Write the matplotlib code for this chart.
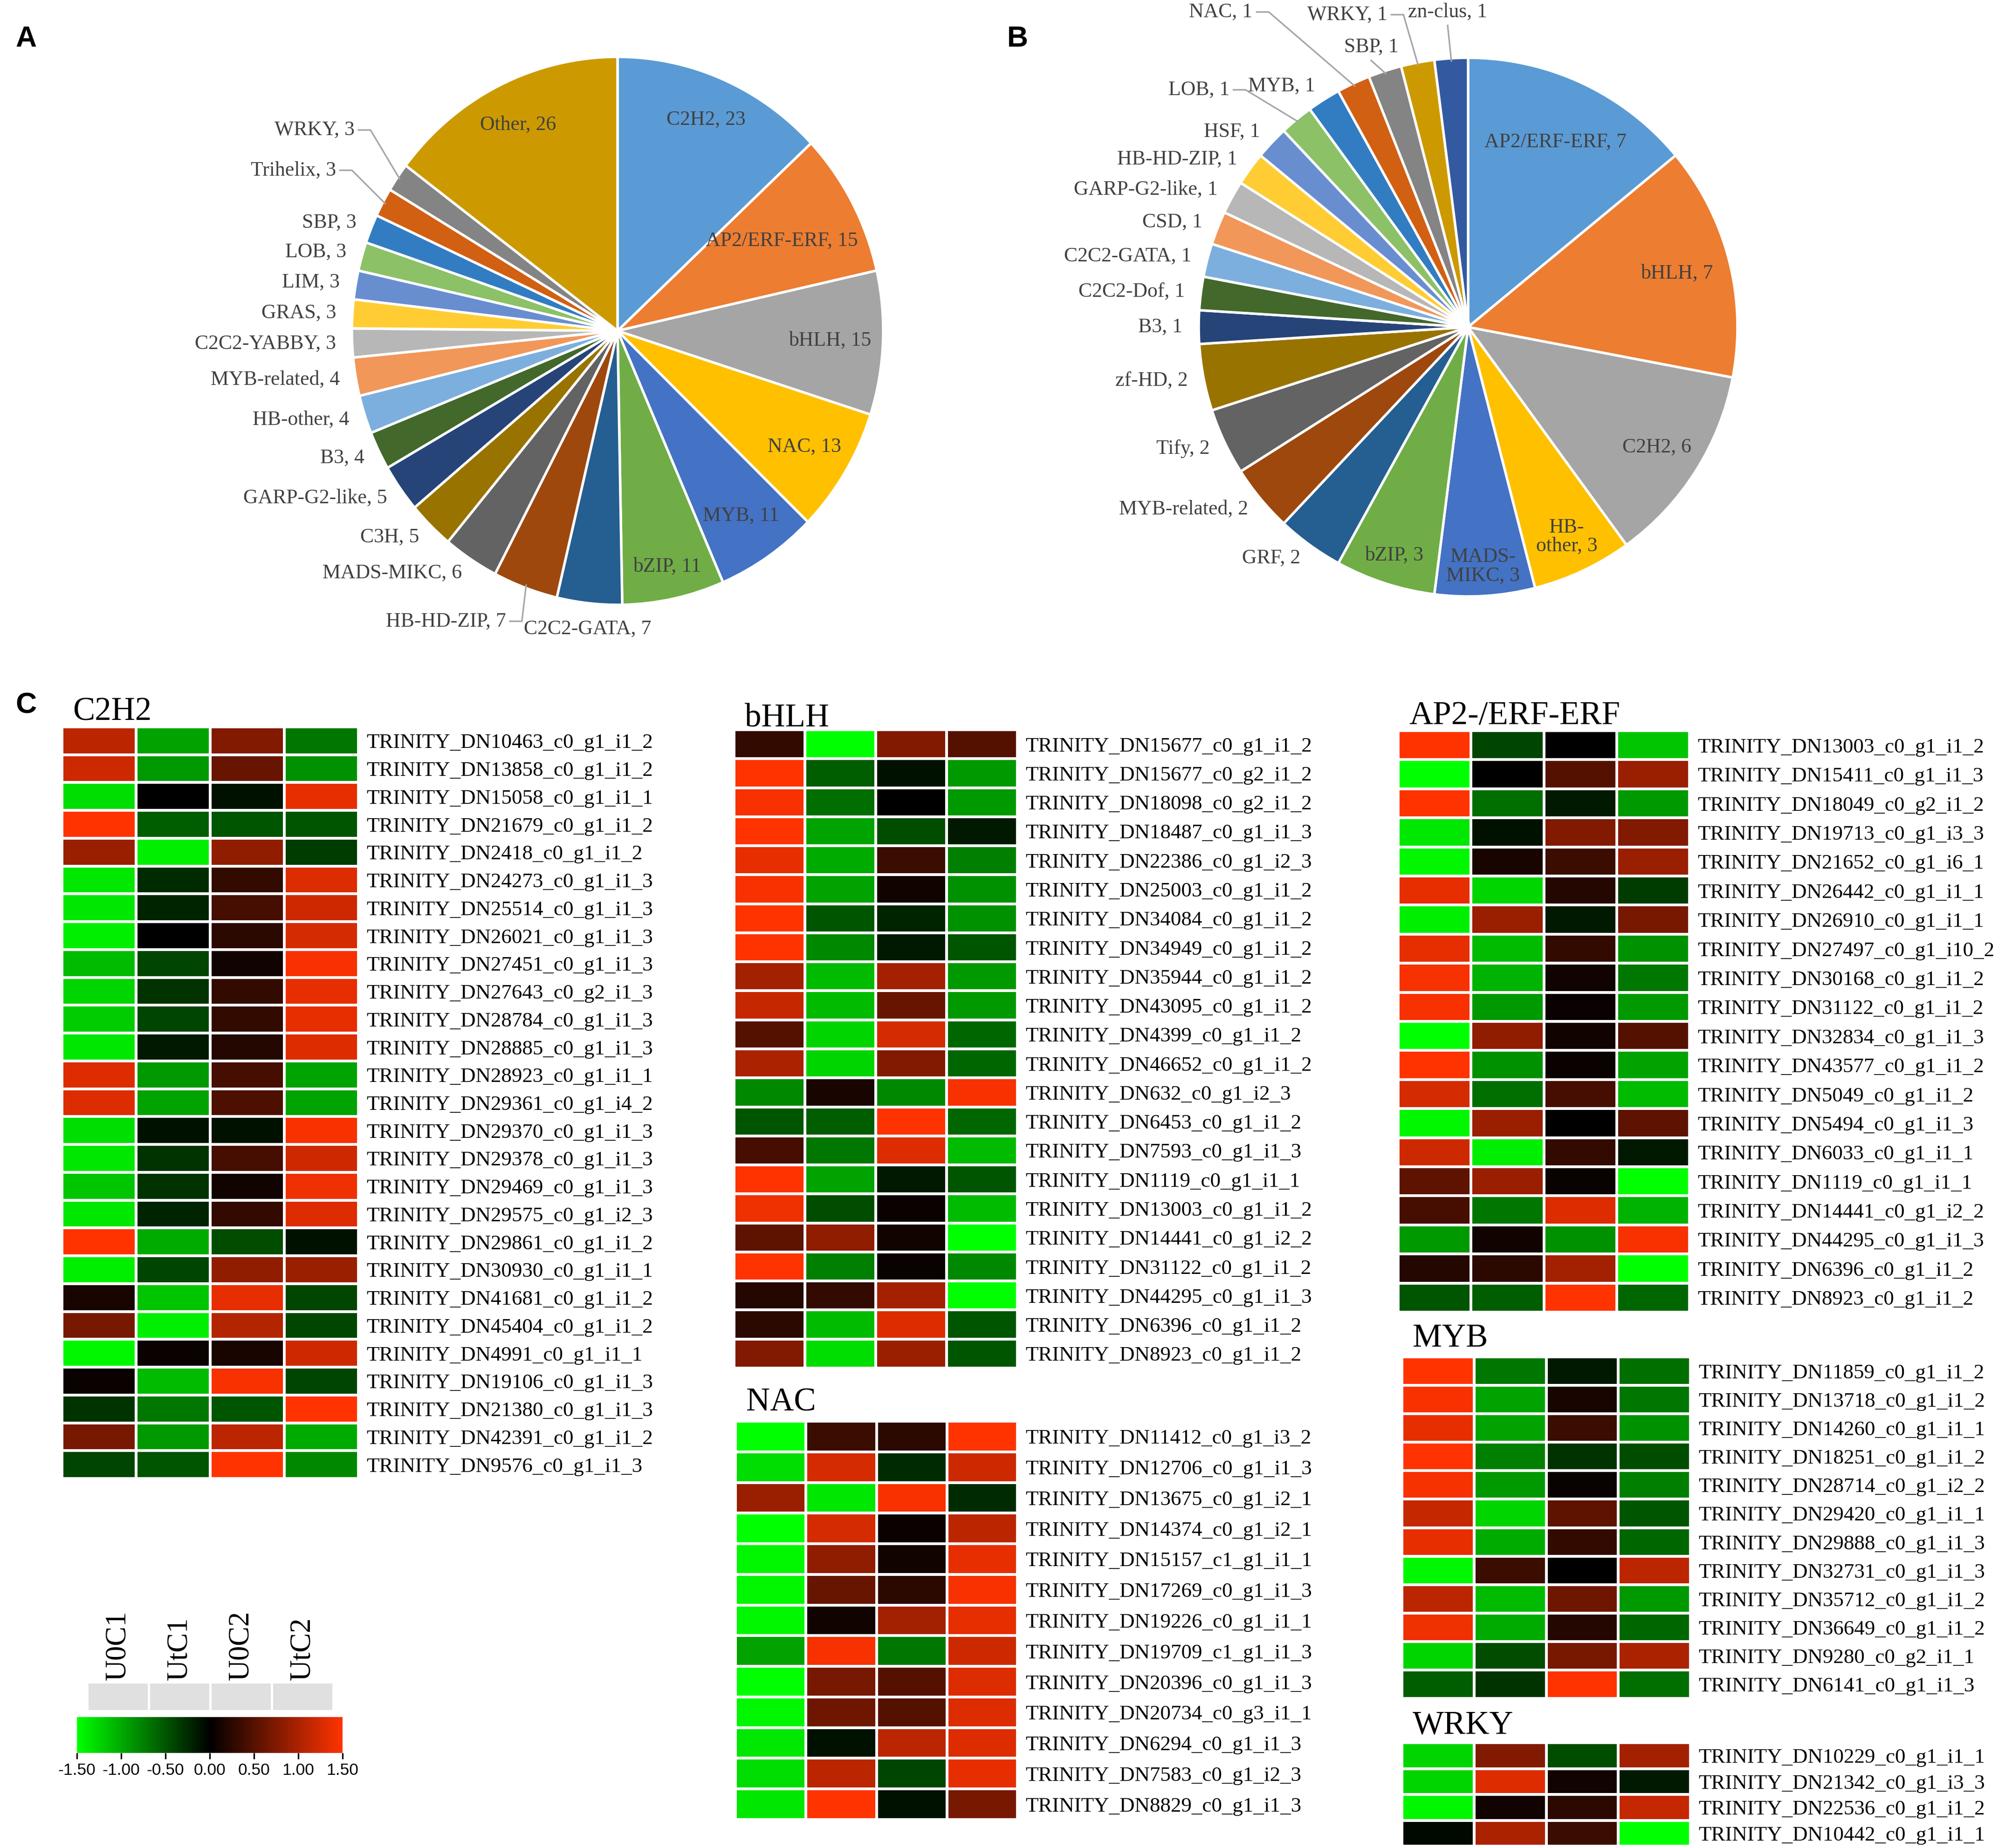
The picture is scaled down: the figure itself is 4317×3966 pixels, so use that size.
import numpy as np
import matplotlib
matplotlib.use("Agg")
import matplotlib.pyplot as plt
from matplotlib.colors import LinearSegmentedColormap, ListedColormap, Normalize
from matplotlib.cm import ScalarMappable

plt.rcParams["axes.unicode_minus"] = False

W, H, DPI = 4317, 3966, 300
SERIF = "Liberation Serif"
SANS = "Liberation Sans"

# ---------------- data: pie A (TF families) ----------------
fam_a = ["C2H2", "AP2/ERF-ERF", "bHLH", "NAC", "MYB", "bZIP", "C2C2-GATA",
         "HB-HD-ZIP", "MADS-MIKC", "C3H", "GARP-G2-like", "B3", "HB-other",
         "MYB-related", "C2C2-YABBY", "GRAS", "LIM", "LOB", "SBP", "Trihelix",
         "WRKY", "Other"]
count_a = [23, 15, 15, 13, 11, 11, 7, 7, 6, 5, 5, 4, 4, 4, 3, 3, 3, 3, 3, 3, 3, 26]

# ---------------- data: pie B ----------------
fam_b = ["AP2/ERF-ERF", "bHLH", "C2H2", "HB-other", "MADS-MIKC", "bZIP", "GRF",
         "MYB-related", "Tify", "zf-HD", "B3", "C2C2-Dof", "C2C2-GATA", "CSD",
         "GARP-G2-like", "HB-HD-ZIP", "HSF", "LOB", "MYB", "NAC", "SBP", "WRKY",
         "zn-clus"]
count_b = [7, 7, 6, 3, 3, 3, 2, 2, 2, 2, 1, 1, 1, 1, 1, 1, 1, 1, 1, 1, 1, 1, 1]

# ---------------- data: heatmaps ----------------
samples = ["U0C1", "UtC1", "U0C2", "UtC2"]

c2h2_genes = ["TRINITY_DN10463_c0_g1_i1_2", "TRINITY_DN13858_c0_g1_i1_2",
              "TRINITY_DN15058_c0_g1_i1_1", "TRINITY_DN21679_c0_g1_i1_2",
              "TRINITY_DN2418_c0_g1_i1_2", "TRINITY_DN24273_c0_g1_i1_3",
              "TRINITY_DN25514_c0_g1_i1_3", "TRINITY_DN26021_c0_g1_i1_3",
              "TRINITY_DN27451_c0_g1_i1_3", "TRINITY_DN27643_c0_g2_i1_3",
              "TRINITY_DN28784_c0_g1_i1_3", "TRINITY_DN28885_c0_g1_i1_3",
              "TRINITY_DN28923_c0_g1_i1_1", "TRINITY_DN29361_c0_g1_i4_2",
              "TRINITY_DN29370_c0_g1_i1_3", "TRINITY_DN29378_c0_g1_i1_3",
              "TRINITY_DN29469_c0_g1_i1_3", "TRINITY_DN29575_c0_g1_i2_3",
              "TRINITY_DN29861_c0_g1_i1_2", "TRINITY_DN30930_c0_g1_i1_1",
              "TRINITY_DN41681_c0_g1_i1_2", "TRINITY_DN45404_c0_g1_i1_2",
              "TRINITY_DN4991_c0_g1_i1_1", "TRINITY_DN19106_c0_g1_i1_3",
              "TRINITY_DN21380_c0_g1_i1_3", "TRINITY_DN42391_c0_g1_i1_2",
              "TRINITY_DN9576_c0_g1_i1_3"]
c2h2_values = [[1.1, -0.95, 0.75, -0.7], [1.2, -0.9, 0.6, -0.85],
               [-1.3, 0.0, -0.1, 1.35], [1.5, -0.55, -0.5, -0.5],
               [0.9, -1.4, 0.85, -0.35], [-1.35, -0.25, 0.3, 1.3],
               [-1.35, -0.2, 0.4, 1.2], [-1.4, 0.0, 0.25, 1.25],
               [-1.1, -0.4, 0.1, 1.45], [-1.25, -0.3, 0.3, 1.35],
               [-1.2, -0.4, 0.3, 1.35], [-1.35, -0.15, 0.2, 1.3],
               [1.3, -0.9, 0.4, -0.95], [1.3, -0.95, 0.45, -0.95],
               [-1.3, -0.1, -0.1, 1.45], [-1.35, -0.3, 0.4, 1.2],
               [-1.15, -0.3, 0.1, 1.4], [-1.35, -0.2, 0.3, 1.3],
               [1.5, -1.0, -0.45, -0.1], [-1.4, -0.4, 0.85, 0.9],
               [0.15, -1.15, 1.35, -0.4], [0.7, -1.4, 1.05, -0.4],
               [-1.45, 0.05, 0.15, 1.2], [0.05, -1.1, 1.45, -0.4],
               [-0.3, -0.7, -0.5, 1.5], [0.7, -0.9, 1.1, -1.0],
               [-0.4, -0.5, 1.5, -0.8]]

bhlh_genes = ["TRINITY_DN15677_c0_g1_i1_2", "TRINITY_DN15677_c0_g2_i1_2",
              "TRINITY_DN18098_c0_g2_i1_2", "TRINITY_DN18487_c0_g1_i1_3",
              "TRINITY_DN22386_c0_g1_i2_3", "TRINITY_DN25003_c0_g1_i1_2",
              "TRINITY_DN34084_c0_g1_i1_2", "TRINITY_DN34949_c0_g1_i1_2",
              "TRINITY_DN35944_c0_g1_i1_2", "TRINITY_DN43095_c0_g1_i1_2",
              "TRINITY_DN4399_c0_g1_i1_2", "TRINITY_DN46652_c0_g1_i1_2",
              "TRINITY_DN632_c0_g1_i2_3", "TRINITY_DN6453_c0_g1_i1_2",
              "TRINITY_DN7593_c0_g1_i1_3", "TRINITY_DN1119_c0_g1_i1_1",
              "TRINITY_DN13003_c0_g1_i1_2", "TRINITY_DN14441_c0_g1_i2_2",
              "TRINITY_DN31122_c0_g1_i1_2", "TRINITY_DN44295_c0_g1_i1_3",
              "TRINITY_DN6396_c0_g1_i1_2", "TRINITY_DN8923_c0_g1_i1_2"]
bhlh_values = [[0.3, -1.5, 0.75, 0.5], [1.5, -0.55, -0.1, -0.9],
               [1.45, -0.65, 0.0, -0.9], [1.5, -0.95, -0.45, -0.15],
               [1.35, -1.0, 0.35, -0.75], [1.45, -0.95, 0.1, -0.85],
               [1.5, -0.5, -0.2, -0.85], [1.5, -0.8, -0.15, -0.5],
               [0.95, -1.1, 0.95, -0.9], [1.15, -1.1, 0.6, -0.9],
               [0.5, -1.25, 1.25, -0.6], [1.0, -1.25, 0.75, -0.6],
               [-0.8, 0.15, -0.8, 1.45], [-0.5, -0.55, 1.5, -0.6],
               [0.4, -0.7, 1.3, -1.1], [1.5, -0.95, -0.15, -0.5],
               [1.4, -0.45, 0.05, -1.1], [0.55, 0.85, 0.1, -1.5],
               [1.5, -0.75, 0.05, -0.8], [0.2, 0.3, 0.95, -1.5],
               [0.25, -1.1, 1.3, -0.5], [0.75, -1.3, 0.9, -0.5]]

nac_genes = ["TRINITY_DN11412_c0_g1_i3_2", "TRINITY_DN12706_c0_g1_i1_3",
             "TRINITY_DN13675_c0_g1_i2_1", "TRINITY_DN14374_c0_g1_i2_1",
             "TRINITY_DN15157_c1_g1_i1_1", "TRINITY_DN17269_c0_g1_i1_3",
             "TRINITY_DN19226_c0_g1_i1_1", "TRINITY_DN19709_c1_g1_i1_3",
             "TRINITY_DN20396_c0_g1_i1_3", "TRINITY_DN20734_c0_g3_i1_1",
             "TRINITY_DN6294_c0_g1_i1_3", "TRINITY_DN7583_c0_g1_i2_3",
             "TRINITY_DN8829_c0_g1_i1_3"]
nac_values = [[-1.5, 0.35, 0.25, 1.5], [-1.3, 1.25, -0.25, 1.2],
              [0.9, -1.35, 1.45, -0.25], [-1.5, 1.25, 0.05, 1.1],
              [-1.45, 0.85, 0.1, 1.35], [-1.45, 0.6, 0.25, 1.45],
              [-1.45, 0.1, 0.95, 1.35], [-0.95, 1.45, -0.7, 1.2],
              [-1.5, 0.7, 0.5, 1.3], [-1.45, 0.65, 0.5, 1.3],
              [-1.35, -0.1, 1.1, 1.3], [-1.3, 1.1, -0.4, 1.35],
              [-1.35, 1.5, -0.1, 0.7]]

ap2_genes = ["TRINITY_DN13003_c0_g1_i1_2", "TRINITY_DN15411_c0_g1_i1_3",
             "TRINITY_DN18049_c0_g2_i1_2", "TRINITY_DN19713_c0_g1_i3_3",
             "TRINITY_DN21652_c0_g1_i6_1", "TRINITY_DN26442_c0_g1_i1_1",
             "TRINITY_DN26910_c0_g1_i1_1", "TRINITY_DN27497_c0_g1_i10_2",
             "TRINITY_DN30168_c0_g1_i1_2", "TRINITY_DN31122_c0_g1_i1_2",
             "TRINITY_DN32834_c0_g1_i1_3", "TRINITY_DN43577_c0_g1_i1_2",
             "TRINITY_DN5049_c0_g1_i1_2", "TRINITY_DN5494_c0_g1_i1_3",
             "TRINITY_DN6033_c0_g1_i1_1", "TRINITY_DN1119_c0_g1_i1_1",
             "TRINITY_DN14441_c0_g1_i2_2", "TRINITY_DN44295_c0_g1_i1_3",
             "TRINITY_DN6396_c0_g1_i1_2", "TRINITY_DN8923_c0_g1_i1_2"]
ap2_values = [[1.5, -0.4, 0.0, -1.15], [-1.5, 0.0, 0.5, 0.9],
              [1.5, -0.65, -0.15, -0.9], [-1.35, -0.1, 0.75, 0.75],
              [-1.45, 0.15, 0.35, 0.9], [1.35, -1.25, 0.2, -0.35],
              [-1.4, 0.9, -0.15, 0.7], [1.35, -1.1, 0.3, -0.85],
              [1.45, -1.05, 0.1, -0.7], [1.45, -0.9, 0.05, -0.9],
              [-1.5, 0.85, 0.1, 0.5], [1.5, -0.85, 0.05, -0.95],
              [1.25, -0.65, 0.4, -1.1], [-1.45, 0.9, 0.0, 0.55],
              [1.2, -1.4, 0.3, -0.15], [0.55, 0.9, 0.05, -1.5],
              [0.4, -0.7, 1.3, -1.05], [-0.9, 0.1, -0.85, 1.45],
              [0.2, 0.25, 0.95, -1.5], [-0.5, -0.55, 1.5, -0.6]]

myb_genes = ["TRINITY_DN11859_c0_g1_i1_2", "TRINITY_DN13718_c0_g1_i1_2",
             "TRINITY_DN14260_c0_g1_i1_1", "TRINITY_DN18251_c0_g1_i1_2",
             "TRINITY_DN28714_c0_g1_i2_2", "TRINITY_DN29420_c0_g1_i1_1",
             "TRINITY_DN29888_c0_g1_i1_3", "TRINITY_DN32731_c0_g1_i1_3",
             "TRINITY_DN35712_c0_g1_i1_2", "TRINITY_DN36649_c0_g1_i1_2",
             "TRINITY_DN9280_c0_g2_i1_1", "TRINITY_DN6141_c0_g1_i1_3"]
myb_values = [[1.5, -0.7, -0.15, -0.65], [1.45, -0.95, 0.15, -0.7],
              [1.35, -0.95, 0.35, -0.85], [1.5, -0.75, -0.3, -0.45],
              [1.45, -0.9, 0.05, -0.75], [1.15, -1.25, 0.55, -0.5],
              [1.35, -1.0, 0.3, -0.6], [-1.45, 0.35, 0.0, 1.1],
              [1.1, -1.1, 0.65, -0.9], [1.4, -1.0, 0.2, -0.6],
              [-1.25, -0.45, 0.7, 1.0], [-0.55, -0.3, 1.5, -0.65]]

wrky_genes = ["TRINITY_DN10229_c0_g1_i1_1", "TRINITY_DN21342_c0_g1_i3_3",
              "TRINITY_DN22536_c0_g1_i1_2", "TRINITY_DN10442_c0_g1_i1_1"]
wrky_values = [[-1.25, 0.75, -0.45, 0.95], [-1.25, 1.3, 0.1, -0.15],
               [-1.45, 0.1, 0.25, 1.15], [-0.05, 1.0, 0.35, -1.5]]

cbar_ticks = [-1.5, -1.0, -0.5, 0.0, 0.5, 1.0, 1.5]

# ---------------- styles ----------------
PALETTE = ["#5B9BD5", "#ED7D31", "#A5A5A5", "#FFC000", "#4472C4", "#70AD47",
           "#255E91", "#9E480E", "#636363", "#997300", "#264478", "#43682B",
           "#7CAFDD", "#F1975A", "#B7B7B7", "#FFCD33", "#698ED0", "#8CC168",
           "#327DC2", "#D26012", "#848484", "#CC9A00", "#335AA1"]
LABEL_GREY = "#404040"
LEADER = "#A6A6A6"
cmap = LinearSegmentedColormap.from_list("gkr", ["#00FF00", "#000000", "#FF3300"])

fig = plt.figure(figsize=(W / DPI, H / DPI), dpi=DPI)


def px_axes(l, t, r, b):
    return fig.add_axes([l / W, 1 - b / H, (r - l) / W, (b - t) / H])


def px_text(x, y, s, **kw):
    return fig.text(x / W, 1 - y / H, s, **kw)


def draw_pie(cx, cy, rx, ry, names, counts, inside, wrap, placed):
    lim = 1.2
    ax = px_axes(cx - lim * rx, cy - lim * ry, cx + lim * rx, cy + lim * ry)
    wedges, _ = ax.pie(counts, colors=PALETTE[:len(counts)], startangle=90,
                       counterclock=False,
                       wedgeprops=dict(edgecolor="white", linewidth=1.3))
    ax.set_aspect("auto")
    ax.set_xlim(-lim, lim)
    ax.set_ylim(-lim, lim)
    kw = dict(fontsize=10.5, family=SERIF, color=LABEL_GREY)
    for w, name, n in zip(wedges, names, counts):
        a = np.deg2rad(0.5 * (w.theta1 + w.theta2))
        ux, uy = np.cos(a), np.sin(a)
        label = f"{wrap.get(name, name)}, {n}"
        if name in inside:
            r = inside[name]
            ax.text(r * ux, r * uy, label, ha="center", va="center",
                    linespacing=1.0, **kw)
        elif name in placed:
            tx, ty, ha = placed[name]
            ax.text(tx, ty, label, ha=ha, va="center", **kw)
            if ha == "right":
                path = [(tx + 0.015, ty), (tx + 0.06, ty), (0.99 * ux, 0.99 * uy)]
            else:
                path = [(tx, ty - 0.05), (0.99 * ux, 0.99 * uy)]
            xs, ys = zip(*path)
            ax.plot(xs, ys, color=LEADER, lw=0.8)
        else:
            r = 1.06
            ha = "right" if ux < -0.15 else ("left" if ux > 0.15 else "center")
            va = "center" if abs(uy) < 0.97 else ("top" if uy < 0 else "bottom")
            ax.text(r * ux, r * uy, label, ha=ha, va=va, **kw)
    return ax


# pie A
draw_pie(1325, 710, 570, 588, fam_a, count_a,
         inside={"C2H2": 0.84, "AP2/ERF-ERF": 0.70, "bHLH": 0.80, "NAC": 0.82,
                 "MYB": 0.82, "bZIP": 0.88, "Other": 0.84},
         wrap={},
         placed={"WRKY": (-0.99, 0.733, "right"),
                 "Trihelix": (-1.06, 0.586, "right"),
                 "HB-HD-ZIP": (-0.42, -1.06, "right")})

# pie B
draw_pie(3150, 702, 578, 578, fam_b, count_b,
         inside={"AP2/ERF-ERF": 0.76, "bHLH": 0.80, "C2H2": 0.83,
                 "HB-other": 0.86, "MADS-MIKC": 0.89, "bZIP": 0.89},
         wrap={"HB-other": "HB-\nother", "MADS-MIKC": "MADS-\nMIKC"},
         placed={"NAC": (-0.80, 1.17, "right"),
                 "WRKY": (-0.30, 1.16, "right"),
                 "zn-clus": (-0.076, 1.17, "center"),
                 "SBP": (-0.36, 1.04, "center"),
                 "LOB": (-0.886, 0.881, "right")})


def draw_heatmap(l, t, r, b, title_y, title, genes, values):
    ax = px_axes(l, t, r, b)
    data = np.array(values)
    ax.pcolormesh(data, cmap=cmap, vmin=-1.5, vmax=1.5,
                  edgecolors="white", linewidth=1.0)
    ax.set_xlim(0, data.shape[1])
    ax.set_ylim(data.shape[0], 0)
    ax.set_xticks([])
    ax.set_yticks(np.arange(len(genes)) + 0.5)
    ax.set_yticklabels(genes, fontsize=10.8, family=SERIF)
    ax.yaxis.tick_right()
    ax.tick_params(axis="y", length=0, pad=4.2)
    for s in ax.spines.values():
        s.set_visible(False)
    px_text(l + 23, title_y + 23, title, fontsize=17, family=SERIF,
            ha="left", va="baseline")
    return ax


draw_heatmap(133, 1560, 769, 3173, 1522, "C2H2", c2h2_genes, c2h2_values)
draw_heatmap(1575, 1566, 2183, 2936, 1536, "bHLH", bhlh_genes, bhlh_values)
draw_heatmap(1578, 3050, 2183, 3905, 3004, "NAC", nac_genes, nac_values)
draw_heatmap(3000, 1568, 3625, 2816, 1532, "AP2-/ERF-ERF", ap2_genes, ap2_values)
draw_heatmap(3008, 2912, 3627, 3645, 2867, "MYB", myb_genes, myb_values)
draw_heatmap(3008, 3740, 3627, 3962, 3697, "WRKY", wrky_genes, wrky_values)

# sample legend (grey boxes with rotated names)
lax = px_axes(187, 3610, 715, 3672)
lax.pcolormesh(np.zeros((1, len(samples))), cmap=ListedColormap(["#E0E0E0"]),
               edgecolors="white", linewidth=1.2)
lax.set_xlim(0, len(samples))
lax.set_ylim(0, 1)
lax.set_yticks([])
lax.set_xticks(np.arange(len(samples)) + 0.5)
lax.set_xticklabels(samples, rotation=90, fontsize=15, family=SERIF)
lax.xaxis.tick_top()
lax.tick_params(axis="x", length=0, pad=1)
for s in lax.spines.values():
    s.set_visible(False)

# colour key
cax = px_axes(165, 3685, 735, 3762)
cb = fig.colorbar(ScalarMappable(norm=Normalize(-1.5, 1.5), cmap=cmap), cax=cax,
                  orientation="horizontal", ticks=cbar_ticks, format="%.2f")
cb.outline.set_visible(False)
cax.tick_params(axis="x", length=3, width=0.8, pad=2, labelsize=8.5)
for lab in cax.get_xticklabels():
    lab.set_family(SANS)

# panel letters
for letter, x, y in [("A", 33, 83), ("B", 2161, 83), ("C", 33, 1514)]:
    px_text(x, y, letter, fontsize=15, fontweight="bold", family=SANS,
            ha="left", va="center")

fig.savefig("out.png", dpi=DPI, facecolor="white")
